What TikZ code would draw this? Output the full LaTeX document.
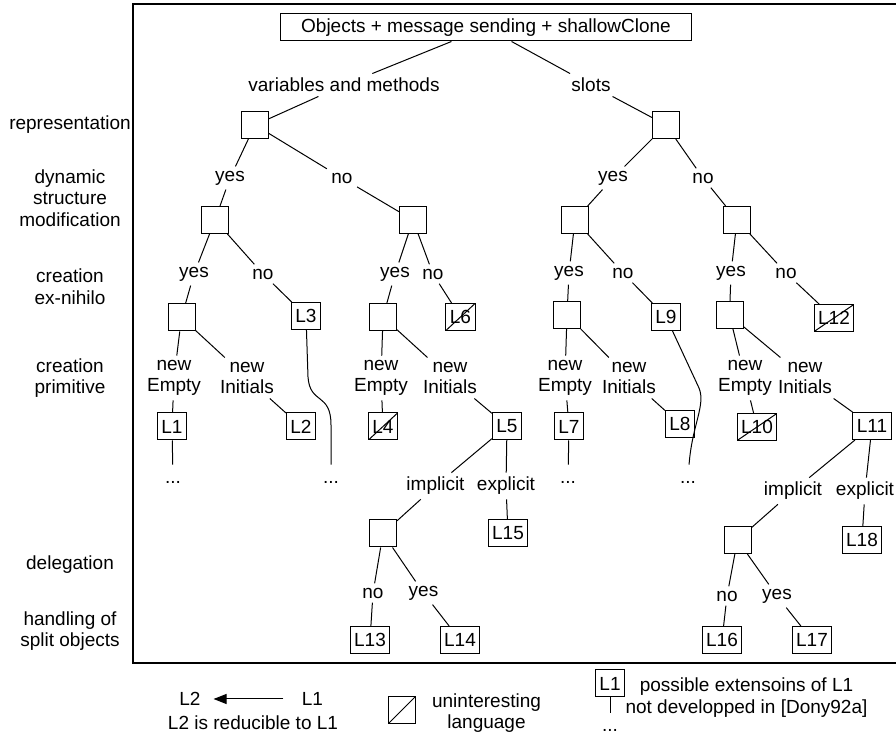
\documentclass[tikz,border=0pt]{standalone}
\usepackage{fontspec}
\setmainfont{Liberation Sans}
\usetikzlibrary{arrows.meta}

\begin{document}
\begin{tikzpicture}[x=0.5pt,y=-0.5pt,line width=0.5pt]
	\tikzstyle{every node}=[font=\fontsize{9.5}{10.8}\selectfont,align=center,inner sep=2pt]
	\tikzstyle{choice}=[draw,minimum width=13.5pt,minimum height=13.5pt]
	\tikzstyle{lang}=[draw,inner xsep=2pt,inner ysep=1.5pt,minimum width=13.5pt,minimum height=13.5pt]
	\tikzstyle{dull}=[lang,path picture={\draw (path picture bounding box.south west) -- (path picture bounding box.north east);}]
	\tikzstyle{dots}=[inner sep=1.5pt]
	
	\useasboundingbox (0,0) rectangle (896,737);
	\draw[line width=0.7pt] (133,4) rectangle (899,663);
	
	\node (rep) at (70,125) {representation};
	\node (dyn) at (70,198) {dynamic\\structure\\modification};
	\node (exn) at (70,287) {creation\\ex-nihilo};
	\node (prim) at (70,378) {creation\\primitive};
	\node (deleg) at (70,565) {delegation};
	\node (split) at (70,631) {handling of\\split objects};
	
	\node[draw,inner xsep=10.5pt,minimum height=13.5pt] (root) at (486,27.5) {Objects + message sending + shallowClone};
	\node (vm) at (344,85) {variables and methods};
	\node (sl) at (591,85) {slots};
	\node[choice] (a) at (255,125) {};
	\node[choice] (g) at (666,125) {};
	\node (a1) at (230,178) {yes};
	\node (a2) at (342,178) {no};
	\node (g1) at (613,178) {yes};
	\node (g2) at (703,178) {no};
	\node[choice] (b) at (215,220) {};
	\node[choice] (c) at (413,220) {};
	\node[choice] (h) at (575,220) {};
	\node[choice] (i) at (737,220) {};
	\node (b1) at (194,274) {yes};
	\node (b2) at (263,274) {no};
	\node (c1) at (395,274) {yes};
	\node (c2) at (433,274) {no};
	\node (h1) at (569,273) {yes};
	\node (h2) at (623,273) {no};
	\node (i1) at (731,273) {yes};
	\node (i2) at (786,273) {no};
	\node[choice] (d) at (181.5,317.5) {};
	\node[lang] (L3) at (306,316) {L3};
	\node[choice] (e) at (383,317) {};
	\node[dull] (L6) at (460.5,317) {L6};
	\node[choice] (j) at (567,315) {};
	\node[lang] (L9) at (666,317) {L9};
	\node[choice] (k) at (729.5,315) {};
	\node[dull] (L12) at (834,318) {L12};
	\node (d1) at (174,378) {new\\Empty};
	\node (d2) at (247,378) {new\\Initials};
	\node (e1) at (381,378) {new\\Empty};
	\node (e2) at (450,378) {new\\Initials};
	\node (j1) at (565,378) {new\\Empty};
	\node (j2) at (629,378) {new\\Initials};
	\node (k1) at (745,378) {new\\Empty};
	\node (k2) at (805,378) {new\\Initials};
	\node[lang] (L1) at (172,426.5) {L1};
	\node[lang] (L2) at (301,426.5) {L2};
	\node[dull] (L4) at (383,426.5) {L4};
	\node[lang] (L5) at (507,426) {L5};
	\node[lang] (L7) at (569,426.5) {L7};
	\node[lang] (L8) at (680,424) {L8};
	\node[dull] (L10) at (757,427) {L10};
	\node[lang] (L11) at (872,426) {L11};
	\node[dots] (x1) at (173,479) {\strut...};
	\node[dots] (x3) at (331,479) {\strut...};
	\node[dots] (x7) at (568,479) {\strut...};
	\node[dots] (x9) at (688,479) {\strut...};
	\node (f0) at (435.5,486) {implicit};
	\node (f1) at (506,486) {explicit};
	\node (m0) at (793,491) {implicit};
	\node (m1) at (865,491) {explicit};
	\node[choice] (f) at (383,533.5) {};
	\node[lang] (L15) at (508,533.5) {L15};
	\node[choice] (m) at (737.5,540) {};
	\node[lang] (L18) at (862,540) {L18};
	\node (f2) at (373,593) {no};
	\node (f3) at (423.5,593) {yes};
	\node (m2) at (727,596) {no};
	\node (m3) at (777,596) {yes};
	\node[lang] (L13) at (370,640) {L13};
	\node[lang] (L14) at (460,640) {L14};
	\node[lang] (L16) at (722,640) {L16};
	\node[lang] (L17) at (812,640) {L17};
	
	\foreach \p/\q in {root/vm,root/sl,vm/a,sl/g,a/a1,a/a2,g/g1,g/g2,a1/b,a2/c,g1/h,g2/i,
		b/b1,b/b2,c/c1,c/c2,h/h1,h/h2,i/i1,i/i2,b1/d,b2/L3,c1/e,c2/L6,h1/j,h2/L9,i1/k,i2/L12,
		d/d1,d/d2,e/e1,e/e2,j/j1,j/j2,k/k1,k/k2,d1/L1,d2/L2,e1/L4,e2/L5,j1/L7,j2/L8,k1/L10,k2/L11,
		L1/x1,L7/x7,L5/f0,L5/f1,L11/m0,L11/m1,f0/f,f1/L15,m0/m,m1/L18,
		f/f2,f/f3,m/m2,m/m3,f2/L13,f3/L14,m2/L16,m3/L17}
		\draw (\p) -- (\q);
	\draw (L3) -- (308,377) .. controls (310,405) and (331,392) .. (331,425) -- (x3);
	\draw (L9) -- (699,388) .. controls (706,405) and (692,425) .. (x9);
	
	\node (lgL2) at (190,699) {L2};
	\node (lgL1) at (312.5,699) {L1};
	\draw[-{Triangle[length=6.5pt,width=5pt]},shorten >=4.25pt,shorten <=7pt] (lgL1) -- (lgL2);
	\node (lgred) at (253,723) {L2 is reducible to L1};
	\node[dull] (lgdull) at (401.5,710.5) {};
	\node (lgdulltxt) at (486.5,713) {uninteresting\\language};
	\node[lang] (lgL) at (610,683.5) {L1};
	\node[dots] (lgx) at (610,727) {\strut...};
	\draw (lgL) -- (lgx);
	\node (lgtxt) at (746.5,697.5) {possible extensoins of L1\\not developped in [Dony92a]};
\end{tikzpicture}
\end{document}
